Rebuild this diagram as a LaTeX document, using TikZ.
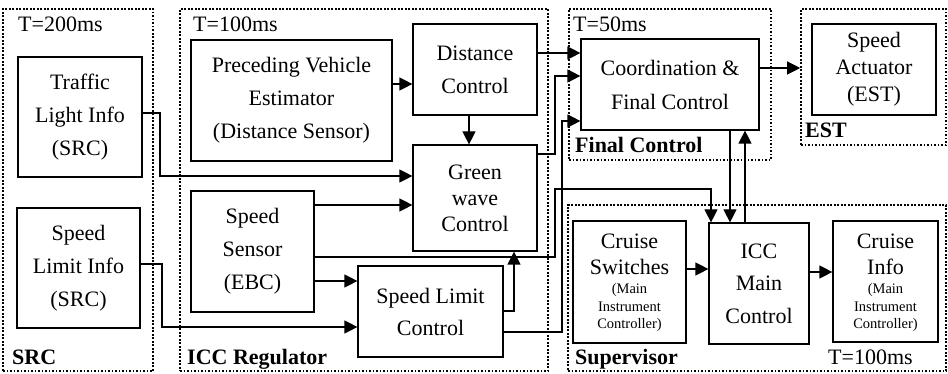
\documentclass[tikz,border=0pt]{standalone}
\usepackage{fontspec}
\setmainfont{Liberation Serif}
\usetikzlibrary{arrows.meta}
\begin{document}
\begin{tikzpicture}[x=1pt,y=-1pt,
  box/.style={draw, line width=1.2pt, inner sep=0pt, align=center, font=\rmfamily\fontsize{22}{33}\selectfont},
  grp/.style={draw, line width=1.6pt, dash pattern=on 1.6pt off 1.9pt, inner sep=0pt},
  arr/.style={line width=1.2pt, -{Triangle[length=13pt,width=13pt]}},
  lbl/.style={inner sep=0pt, anchor=base west, font=\rmfamily\fontsize{22}{26}\selectfont},
  blbl/.style={lbl, font=\rmfamily\fontsize{22}{26}\selectfont\bfseries},
  txt/.style={inner sep=0pt, anchor=base, font=\rmfamily\fontsize{22}{26}\selectfont},
  stxt/.style={inner sep=0pt, anchor=base, font=\rmfamily\fontsize{14.5}{17}\selectfont}
]
\useasboundingbox (0,0) rectangle (948,374);

% group frames
\node[grp, minimum width=150pt, minimum height=362pt] (srcf) at (78,190) {};
\node[grp, minimum width=368pt, minimum height=362pt] (iccf) at (364,190) {};
\node[grp, minimum width=202pt, minimum height=151pt] (fcf) at (670,84.5) {};
\node[grp, minimum width=145pt, minimum height=136pt] (estf) at (873.5,77) {};
\node[grp, minimum width=378pt, minimum height=166pt] (supf) at (757,288) {};

% group labels
\node[lbl] (t200) at (18,32) {T=200ms};
\node[lbl] (t100a) at (193,32) {T=100ms};
\node[lbl] (t50) at (573,32) {T=50ms};
\node[blbl] (lsrc) at (12,364) {SRC};
\node[blbl] (licc) at (187,364) {ICC Regulator};
\node[blbl] (lfc) at (575,153) {Final Control};
\node[blbl] (lest) at (805,138) {EST};
\node[blbl] (lsup) at (575,364) {Supervisor};
\node[lbl] (t100b) at (828,364) {T=100ms};

% boxes
\node[box, minimum width=124pt, minimum height=120pt] (tli) at (80,117) {Traffic\\Light Info\\(SRC)};
\node[box, minimum width=123pt, minimum height=120pt] (sli) at (78.5,268) {Speed\\Limit Info\\(SRC)};
\node[box, minimum width=201pt, minimum height=121pt] (pve) at (291.5,100.5) {Preceding Vehicle\\Estimator\\(Distance Sensor)};
\node[box, minimum width=124pt, minimum height=91pt] (dc) at (475,69.5) {Distance\\Control};
\node[box, minimum width=124pt, minimum height=106pt, font=\rmfamily\fontsize{22}{26}\selectfont] (gw) at (475,198) {Green\\wave\\Control};
\node[box, minimum width=123pt, minimum height=121pt] (ss) at (252.5,251.5) {Speed\\Sensor\\(EBC)};
\node[box, minimum width=145pt, minimum height=91pt, font=\rmfamily\fontsize{22}{32}\selectfont] (slc) at (430.5,311.5) {Speed Limit\\Control};
\node[box, minimum width=178pt, minimum height=91pt, font=\rmfamily\fontsize{22}{34}\selectfont] (cfc) at (670,84.5) {Coordination \&\\Final Control};
\node[box, minimum width=124pt, minimum height=91pt, font=\rmfamily\fontsize{22}{27}\selectfont] (sa) at (874,69.5) {Speed\\Actuator\\(EST)};
\node[box, minimum width=100pt, minimum height=121pt, font=\rmfamily\fontsize{22}{32.5}\selectfont] (imc) at (759,283.5) {ICC\\Main\\Control};
\node[box, minimum width=113pt, minimum height=122pt] (cs) at (629.5,282) {};
\node[box, minimum width=105pt, minimum height=121pt] (ci) at (885.5,281.5) {};

% cruise box texts
\node[txt] (cs1) at (629.5,249) {Cruise};
\node[txt] (cs2) at (629.5,275) {Switches};
\node[stxt] (cs3) at (629.5,294) {(Main};
\node[stxt] (cs4) at (629.5,311) {Instrument};
\node[stxt] (cs5) at (629.5,328) {Controller)};
\node[txt] (ci1) at (885.5,249) {Cruise};
\node[txt] (ci2) at (885.5,275) {Info};
\node[stxt] (ci3) at (885.5,294) {(Main};
\node[stxt] (ci4) at (885.5,311) {Instrument};
\node[stxt] (ci5) at (885.5,328) {Controller)};

% connectors
\draw[arr] (tli.east |- 0,113) -- (160,113) |- (gw.west |- 0,176);
\draw[arr] (sli.east |- 0,264) -- (162,264) |- (slc.west |- 0,327);
\draw[arr] (pve.east |- 0,84) -- (dc.west |- 0,84);
\draw[arr] (dc.south -| 469,0) -- (gw.north -| 469,0);
\draw[arr] (ss.east |- 0,205) -- (gw.west |- 0,205);
\draw[arr] (ss.east |- 0,281) -- (slc.west |- 0,281);
\draw[arr] (ss.east |- 0,257) -- (555,257) |- (711,189) -- (imc.north -| 711,0);
\draw[arr] (slc.east |- 0,311) -- (514,311) -- (gw.south -| 514,0);
\draw[arr] (dc.east |- 0,53) -- (cfc.west |- 0,53);
\draw[arr] (gw.east |- 0,154) -- (555,154) |- (cfc.west |- 0,76);
\draw[arr] (slc.east |- 0,332) -- (562,332) |- (cfc.west |- 0,121);
\draw[arr] (cfc.east |- 0,68) -- (estf.west |- 0,68);
\draw[arr] (cfc.south -| 730,0) -- (imc.north -| 730,0);
\draw[arr] (imc.north -| 745,0) -- (cfc.south -| 745,0);
\draw[arr] (cs.east |- 0,269) -- (imc.west |- 0,269);
\draw[arr] (imc.east |- 0,272) -- (ci.west |- 0,272);
\end{tikzpicture}
\end{document}
